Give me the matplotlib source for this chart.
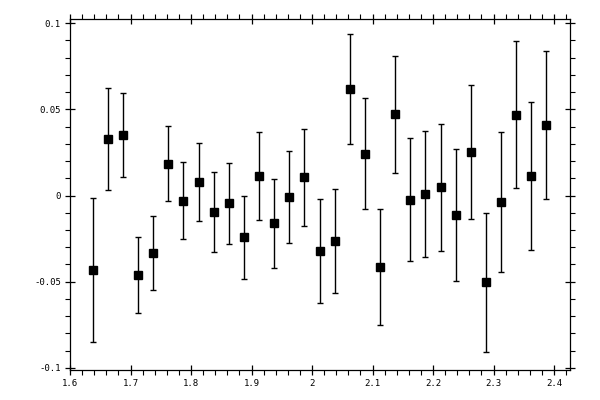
import matplotlib
matplotlib.use("Agg")
import matplotlib.pyplot as plt
from matplotlib.ticker import MultipleLocator, FixedLocator

x = [1.6375, 1.6625, 1.6875, 1.7125, 1.7375, 1.7625, 1.7875, 1.8125, 1.8375, 1.8625,
     1.8875, 1.9125, 1.9375, 1.9625, 1.9875, 2.0125, 2.0375, 2.0625, 2.0875, 2.1125,
     2.1375, 2.1625, 2.1875, 2.2125, 2.2375, 2.2625, 2.2875, 2.3125, 2.3375, 2.3625,
     2.3875]
y = [-0.0433, 0.0326, 0.0350, -0.0461, -0.0333, 0.0185, -0.0030, 0.0078, -0.0096, -0.0046,
     -0.0242, 0.0112, -0.0162, -0.0010, 0.0105, -0.0322, -0.0264, 0.0617, 0.0242, -0.0415,
     0.0471, -0.0024, 0.0008, 0.0048, -0.0114, 0.0251, -0.0505, -0.0038, 0.0470, 0.0112,
     0.0408]
err = [0.0418, 0.0296, 0.0243, 0.0220, 0.0215, 0.0217, 0.0223, 0.0226, 0.0232, 0.0234,
       0.0242, 0.0255, 0.0258, 0.0266, 0.0281, 0.0300, 0.0301, 0.0320, 0.0322, 0.0336,
       0.0340, 0.0356, 0.0365, 0.0370, 0.0383, 0.0389, 0.0402, 0.0405, 0.0428, 0.0428,
       0.0430]

xticks = [1.6, 1.7, 1.8, 1.9, 2.0, 2.1, 2.2, 2.3, 2.4]
xticklabels = ["1.6", "1.7", "1.8", "1.9", "2", "2.1", "2.2", "2.3", "2.4"]
yticks = [-0.1, -0.05, 0.0, 0.05, 0.1]
yticklabels = ["-0.1", "-0.05", "0", "0.05", "0.1"]

fig = plt.figure(figsize=(6, 4), dpi=100)
ax = fig.add_axes([70/600, 1-370/400, 500/600, (370-19.3)/400])

ax.errorbar(x, y, yerr=err, fmt='s', color='black', ecolor='black',
            markersize=5.8, elinewidth=1.0, capsize=2.3, capthick=1.0)

ax.set_xlim(1.6, 2.4264)
ax.set_ylim(-0.1013, 0.1023)

fnt = dict(family='DejaVu Sans Mono', size=6.5)
ax.xaxis.set_major_locator(FixedLocator(xticks))
ax.set_xticklabels(xticklabels, **fnt)
ax.yaxis.set_major_locator(FixedLocator(yticks))
ax.set_yticklabels(yticklabels, **fnt)
ax.xaxis.set_minor_locator(MultipleLocator(0.02))
ax.yaxis.set_minor_locator(MultipleLocator(0.01))

ax.tick_params(which='major', direction='inout', length=7, width=0.9,
               top=True, right=True, labeltop=False, labelright=False, pad=3)
ax.tick_params(which='minor', direction='out', length=3.3, width=0.8,
               top=True, right=True)
for s in ax.spines.values():
    s.set_linewidth(0.9)

fig.savefig("out.png", dpi=100)
